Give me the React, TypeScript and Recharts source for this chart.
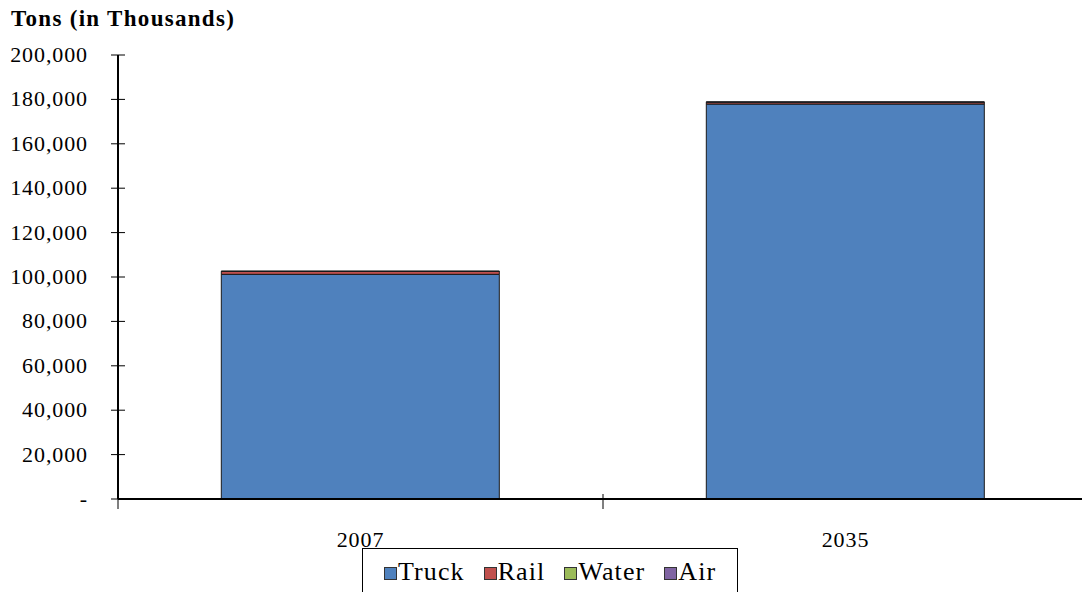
import { BarChart, Bar, XAxis, YAxis, Legend } from 'recharts'

const years = ['2007', '2035']
const truck = [101200, 177900]
const rail = [1300, 700]
const water = [60, 150]
const air = [20, 150]
const yTicks = [0, 20000, 40000, 60000, 80000, 100000, 120000, 140000, 160000, 180000, 200000]

const data = years.map((year, i) => ({
  year,
  Truck: truck[i],
  Rail: rail[i],
  Water: water[i],
  Air: air[i],
}))

const SERIES = [
  { key: 'Truck', color: '#4F81BD' },
  { key: 'Rail', color: '#C0504D' },
  { key: 'Water', color: '#9BBB59' },
  { key: 'Air', color: '#8064A2' },
]

const FONT = '"Liberation Serif", "Times New Roman", serif'
const W = 1090
const H = 600
const Y_WIDTH = 118
const RIGHT = 2
const Y_MARGIN = 30

const fmt = (v: number) => (v === 0 ? '-' : v.toLocaleString('en-US'))

function YTick(props: any) {
  const { x, y, payload } = props
  const axisX = x + Y_MARGIN
  return (
    <g>
      <line x1={axisX - 7} x2={axisX + 7} y1={y} y2={y} stroke="#000" strokeWidth={1} />
      <text
        x={x}
        y={y}
        dy={7}
        textAnchor="end"
        fontSize={22}
        letterSpacing={0.9}
        fontFamily={FONT}
        fill="#000"
      >
        {fmt(payload.value)}
      </text>
    </g>
  )
}

function XTick(props: any) {
  const { x, y, payload } = props
  const band = (W - Y_WIDTH - RIGHT) / years.length
  const left = x - band / 2
  return (
    <g>
      <line x1={left} x2={left} y1={y - 7} y2={y + 8} stroke="#000" strokeWidth={1} />
      <text
        x={x}
        y={y + 46}
        textAnchor="middle"
        fontSize={22}
        letterSpacing={0.9}
        fontFamily={FONT}
        fill="#000"
      >
        {payload.value}
      </text>
    </g>
  )
}

function LegendBox() {
  return (
    <div
      style={{
        marginLeft: 362,
        width: 376,
        height: 52,
        border: '1px solid #000',
        boxSizing: 'border-box',
        display: 'flex',
        alignItems: 'center',
        paddingLeft: 21,
        paddingBottom: 4,
        fontFamily: FONT,
        fontSize: 26,
        letterSpacing: 1.1,
        color: '#000',
      }}
    >
      {SERIES.map((s) => (
        <span key={s.key} style={{ display: 'flex', alignItems: 'center', marginRight: 19 }}>
          <span
            style={{
              width: 11,
              height: 11,
              background: s.color,
              border: '1px solid #333',
              marginRight: 1,
              marginTop: 3,
              display: 'inline-block',
            }}
          />
          {s.key}
        </span>
      ))}
    </div>
  )
}

export default function App() {
  return (
    <div style={{ position: 'absolute', left: 0, top: 0, width: 1082, height: 592, overflow: 'hidden', background: '#fff' }}>
      <div
        style={{
          position: 'absolute',
          left: 11,
          top: 6,
          fontFamily: FONT,
          fontWeight: 'bold',
          fontSize: 23,
          letterSpacing: 1.3,
          color: '#000',
          lineHeight: '26px',
        }}
      >
        Tons (in Thousands)
      </div>
      <BarChart
        width={W}
        height={H}
        data={data}
        margin={{ top: 55, right: RIGHT, left: 0, bottom: 0 }}
        barCategoryGap="21.3%"
      >
        <XAxis
          dataKey="year"
          height={49}
          tickLine={false}
          tickSize={0}
          axisLine={{ stroke: '#000', strokeWidth: 2 }}
          tick={<XTick />}
          interval={0}
        />
        <YAxis
          width={Y_WIDTH}
          domain={[0, 200000]}
          ticks={yTicks}
          tickLine={false}
          tickSize={0}
          tickMargin={Y_MARGIN}
          axisLine={{ stroke: '#000', strokeWidth: 2 }}
          tick={<YTick />}
          interval={0}
        />
        <Legend verticalAlign="bottom" content={() => <LegendBox />} />
        {SERIES.map((s) => (
          <Bar
            key={s.key}
            dataKey={s.key}
            stackId="a"
            fill={s.color}
            stroke="#1a1a1a"
            strokeWidth={1}
            isAnimationActive={false}
          />
        ))}
      </BarChart>
    </div>
  )
}
